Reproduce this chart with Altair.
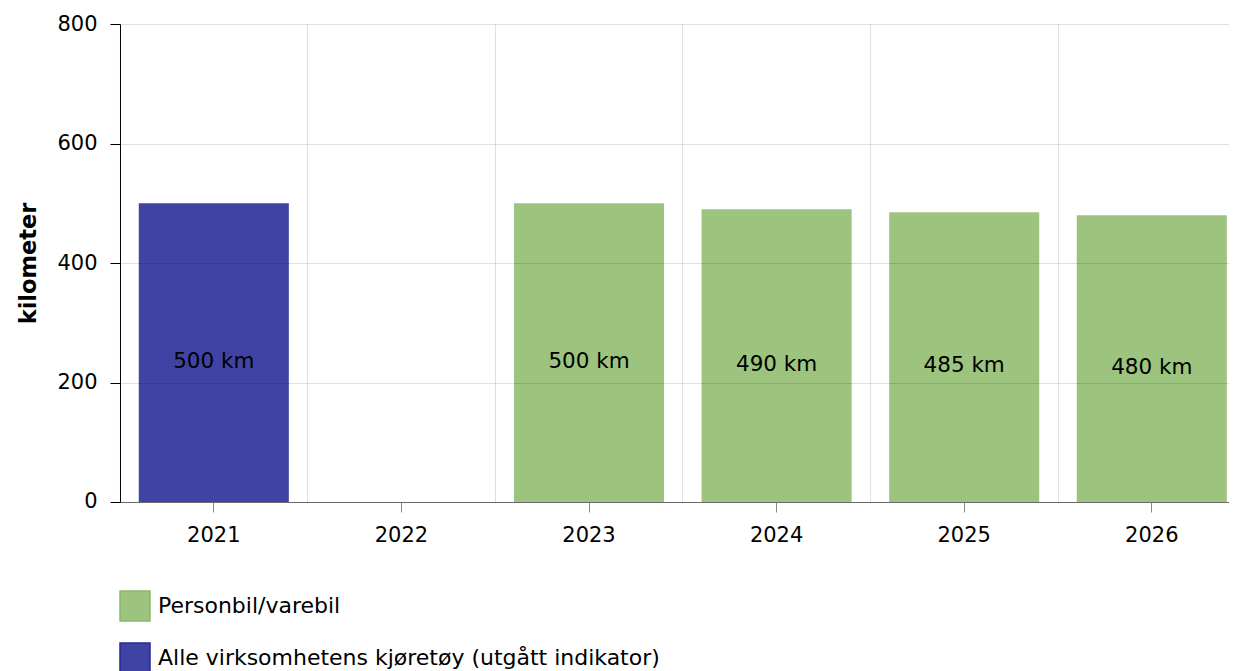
import altair as alt
import pandas as pd

years = ["2021", "2022", "2023", "2024", "2025", "2026"]
values = [500, None, 500, 490, 485, 480]
series = ["Alle virksomhetens kjøretøy (utgått indikator)", None,
          "Personbil/varebil", "Personbil/varebil", "Personbil/varebil", "Personbil/varebil"]
legend_order = ["Personbil/varebil", "Alle virksomhetens kjøretøy (utgått indikator)"]
colors = ["#9cc47e", "#3f44a4"]
border_colors = ["#86b96a", "#26299a"]
y_ticks = [0, 200, 400, 600, 800]

rows = [{"year": y, "value": v, "series": s} for y, v, s in zip(years, values, series) if v is not None]
df = pd.DataFrame(rows)

FONT = "DejaVu Sans"
FS = 21

legend_props = dict(title=None, orient="none", legendX=-1, legendY=566,
                    direction="vertical", symbolType="square",
                    symbolSize=900, symbolStrokeWidth=1.5,
                    labelFontSize=22, labelFont=FONT, labelColor="#000000",
                    labelOffset=7, rowPadding=16, padding=0, symbolOpacity=1,
                    labelLimit=900)

x_main = alt.X("year:N", sort=years,
               scale=alt.Scale(domain=years, paddingInner=0.2, paddingOuter=0.1),
               axis=alt.Axis(title=None, labelAngle=0, grid=False, domainColor="#777777",
                             tickColor="#888888", tickSize=10, labelPadding=13,
                             labelFontSize=FS, labelFont=FONT, labelColor="#000000"))
y_main = alt.Y("value:Q", scale=alt.Scale(domain=[0, 800], nice=False),
               axis=alt.Axis(title="kilometer", values=y_ticks, grid=True, gridColor="#000000",
                             gridOpacity=0.13, domainColor="#000000", tickColor="#000000",
                             tickSize=10, labelPadding=13, labelFontSize=FS, labelFont=FONT,
                             labelColor="#000000", titleFontSize=22.5, titleFont=FONT,
                             titleFontWeight="bold", titlePadding=16, titleColor="#000000",
                             zindex=1))

bars = alt.Chart(df).mark_bar(strokeWidth=0).encode(
    x=x_main,
    y=y_main,
    color=alt.Color("series:N", scale=alt.Scale(domain=legend_order, range=colors),
                    legend=alt.Legend(**legend_props)),
    stroke=alt.Stroke("series:N", scale=alt.Scale(domain=legend_order, range=border_colors),
                      legend=alt.Legend(**legend_props)),
)

labels = alt.Chart(df).transform_calculate(
    label="datum.value + ' km'", half="datum.value / 2"
).mark_text(font=FONT, fontSize=21.5, color="#000000", baseline="middle", dy=9).encode(
    x=alt.X("year:N", sort=years),
    y=alt.Y("half:Q"),
    text="label:N",
)

main = alt.layer(bars, labels)

grid_layer = alt.Chart(df).mark_bar(opacity=0).encode(
    x=alt.X("year:N", sort=years,
            scale=alt.Scale(domain=years, paddingInner=0, paddingOuter=0),
            axis=alt.Axis(title=None, orient="top", grid=True, bandPosition=0, ticks=False,
                          labels=False, domain=False, gridColor="#000000", gridOpacity=0.13,
                          zindex=1)),
    y=alt.Y("value:Q"),
)

chart = alt.layer(main, grid_layer).resolve_scale(x="independent").properties(
    width=1125.6, height=478,
    autosize=alt.AutoSizeParams(type="none"),
    padding={"left": 112, "top": 16, "right": -17, "bottom": 170},
).configure_view(stroke=None)

chart.save("out.html", embed_options={"renderer": "svg", "actions": False})
